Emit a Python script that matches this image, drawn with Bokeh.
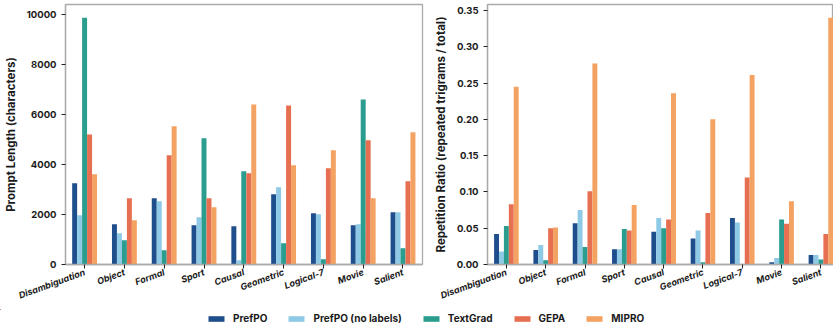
from bokeh.plotting import figure
from bokeh.models import (ColumnDataSource, Range1d, FixedTicker, Legend, LegendItem,
                          PrintfTickFormatter)
from bokeh.transform import dodge
from bokeh.layouts import row, column
from bokeh.embed import file_html
from bokeh.resources import INLINE
import math

categories = ["Disambiguation", "Object", "Formal", "Sport", "Causal",
              "Geometric", "Logical-7", "Movie", "Salient"]
series = ["PrefPO", "PrefPO (no labels)", "TextGrad", "GEPA", "MIPRO"]
colors = ["#1f4e8c", "#8ecae6", "#2a9d8f", "#e76f51", "#f4a261"]

# Prompt length (characters)
len_prefpo = [3250, 1610, 2650, 1570, 1530, 2810, 2050, 1570, 2090]
len_prefpo_nl = [1970, 1250, 2530, 1890, 170, 3090, 2010, 1610, 2090]
len_textgrad = [9870, 970, 570, 5050, 3730, 850, 210, 6600, 650]
len_gepa = [5200, 2650, 4370, 2650, 3650, 6360, 3850, 4970, 3330]
len_mipro = [3610, 1770, 5530, 2290, 6400, 3970, 4570, 2650, 5290]

# Repetition ratio (repeated trigrams / total)
rep_prefpo = [0.042, 0.020, 0.057, 0.021, 0.045, 0.036, 0.064, 0.003, 0.013]
rep_prefpo_nl = [0.018, 0.027, 0.075, 0.021, 0.064, 0.047, 0.058, 0.009, 0.013]
rep_textgrad = [0.053, 0.006, 0.024, 0.049, 0.050, 0.003, 0.0, 0.062, 0.007]
rep_gepa = [0.083, 0.050, 0.101, 0.047, 0.062, 0.071, 0.120, 0.056, 0.042]
rep_mipro = [0.245, 0.051, 0.277, 0.082, 0.236, 0.200, 0.261, 0.087, 0.340]

len_ticks = [0, 2000, 4000, 6000, 8000, 10000]
rep_ticks = [0.0, 0.05, 0.10, 0.15, 0.20, 0.25, 0.30, 0.35]

FONT = "Inter"
TEXT = "#1a1a1a"
offsets = [-0.25, -0.125, 0.0, 0.125, 0.25]
BAR_W = 0.125
TOP_H = 309


def make_source(values):
    return ColumnDataSource(dict(x=list(range(len(categories))),
                                 s0=values[0], s1=values[1], s2=values[2],
                                 s3=values[3], s4=values[4]))


def make_fig(width, border_left, border_right, x_end, y_end, ylabel, src, yticks, fmt=None):
    p = figure(width=width, height=TOP_H, output_backend="svg", toolbar_location=None,
               x_range=Range1d(-0.48, x_end), y_range=Range1d(0, y_end),
               min_border_left=border_left, min_border_right=border_right,
               min_border_top=4, min_border_bottom=TOP_H - 264)
    for i in range(5):
        p.vbar(x=dodge("x", offsets[i]), top="s%d" % i, width=BAR_W, source=src,
               fill_color=colors[i], line_color=None)
    p.xgrid.visible = False
    p.ygrid.visible = False
    p.outline_line_color = "#aaaaaa"
    p.outline_line_width = 1.3
    p.background_fill_color = "white"
    p.border_fill_color = "white"
    for ax in (p.xaxis[0], p.yaxis[0]):
        ax.axis_line_color = "#aaaaaa"
        ax.axis_line_width = 1.3
        ax.major_tick_line_color = "#222222"
        ax.major_tick_out = 4
        ax.major_tick_in = 0
        ax.minor_tick_line_color = None
        ax.major_label_text_font = FONT
        ax.major_label_text_font_style = "bold"
        ax.major_label_text_color = TEXT
        ax.major_label_standoff = 5
    p.xaxis.ticker = FixedTicker(ticks=list(range(len(categories))))
    p.xaxis.major_label_overrides = {i: c for i, c in enumerate(categories)}
    p.xaxis.major_label_orientation = math.radians(20)
    p.xaxis.major_label_text_font_style = "bold italic"
    p.xaxis.major_label_text_font_size = "9px"
    p.xaxis.major_label_standoff = 3
    p.yaxis.ticker = FixedTicker(ticks=yticks)
    p.yaxis.major_label_text_font_size = "9.5px"
    if fmt:
        p.yaxis.formatter = PrintfTickFormatter(format=fmt)
    p.yaxis.axis_label = ylabel
    p.yaxis.axis_label_text_font = FONT
    p.yaxis.axis_label_text_font_style = "bold"
    p.yaxis.axis_label_text_font_size = "11.5px"
    p.yaxis.axis_label_text_color = TEXT
    p.yaxis.axis_label_standoff = 6
    return p


len_src = make_source([len_prefpo, len_prefpo_nl, len_textgrad, len_gepa, len_mipro])
rep_src = make_source([rep_prefpo, rep_prefpo_nl, rep_textgrad, rep_gepa, rep_mipro])

p1 = make_fig(430, 63, 8, 8.49, 10400, "Prompt Length (characters)", len_src, len_ticks)
p2 = make_fig(403, 51, 0, 8.32, 0.3583, "Repetition Ratio (repeated trigrams / total)",
              rep_src, rep_ticks, fmt="%.2f")

# legend strip: same series placed far outside the view, only legend entries show
pl = figure(width=833, height=329 - TOP_H, output_backend="svg", toolbar_location=None,
            x_axis_type=None, y_axis_type=None, min_border=0,
            x_range=Range1d(100, 101), y_range=Range1d(-1e6 - 1, -1e6))
pl.outline_line_color = None
pl.xgrid.visible = False
pl.ygrid.visible = False
items = []
for i, (name, col) in enumerate(zip(series, colors)):
    r = pl.vbar(x=dodge("x", offsets[i]), top="s%d" % i, width=BAR_W, source=len_src,
                fill_color=col, line_color=None)
    items.append(LegendItem(label=name, renderers=[r]))
leg = Legend(items=items, orientation="horizontal", location=(206, 5),
             glyph_width=20, glyph_height=7, label_standoff=7, spacing=19,
             padding=0, margin=0, border_line_color=None, background_fill_alpha=0,
             label_text_font=FONT, label_text_font_style="bold",
             label_text_font_size="10px", label_text_color=TEXT,
             label_height=12, label_text_baseline="middle")
pl.add_layout(leg, "center")

layout = column(row(p1, p2, spacing=0), pl, spacing=0, margin=0,
                styles={"position": "absolute", "top": "0px", "left": "0px"})

open("out.html", "w").write(file_html(layout, INLINE))
